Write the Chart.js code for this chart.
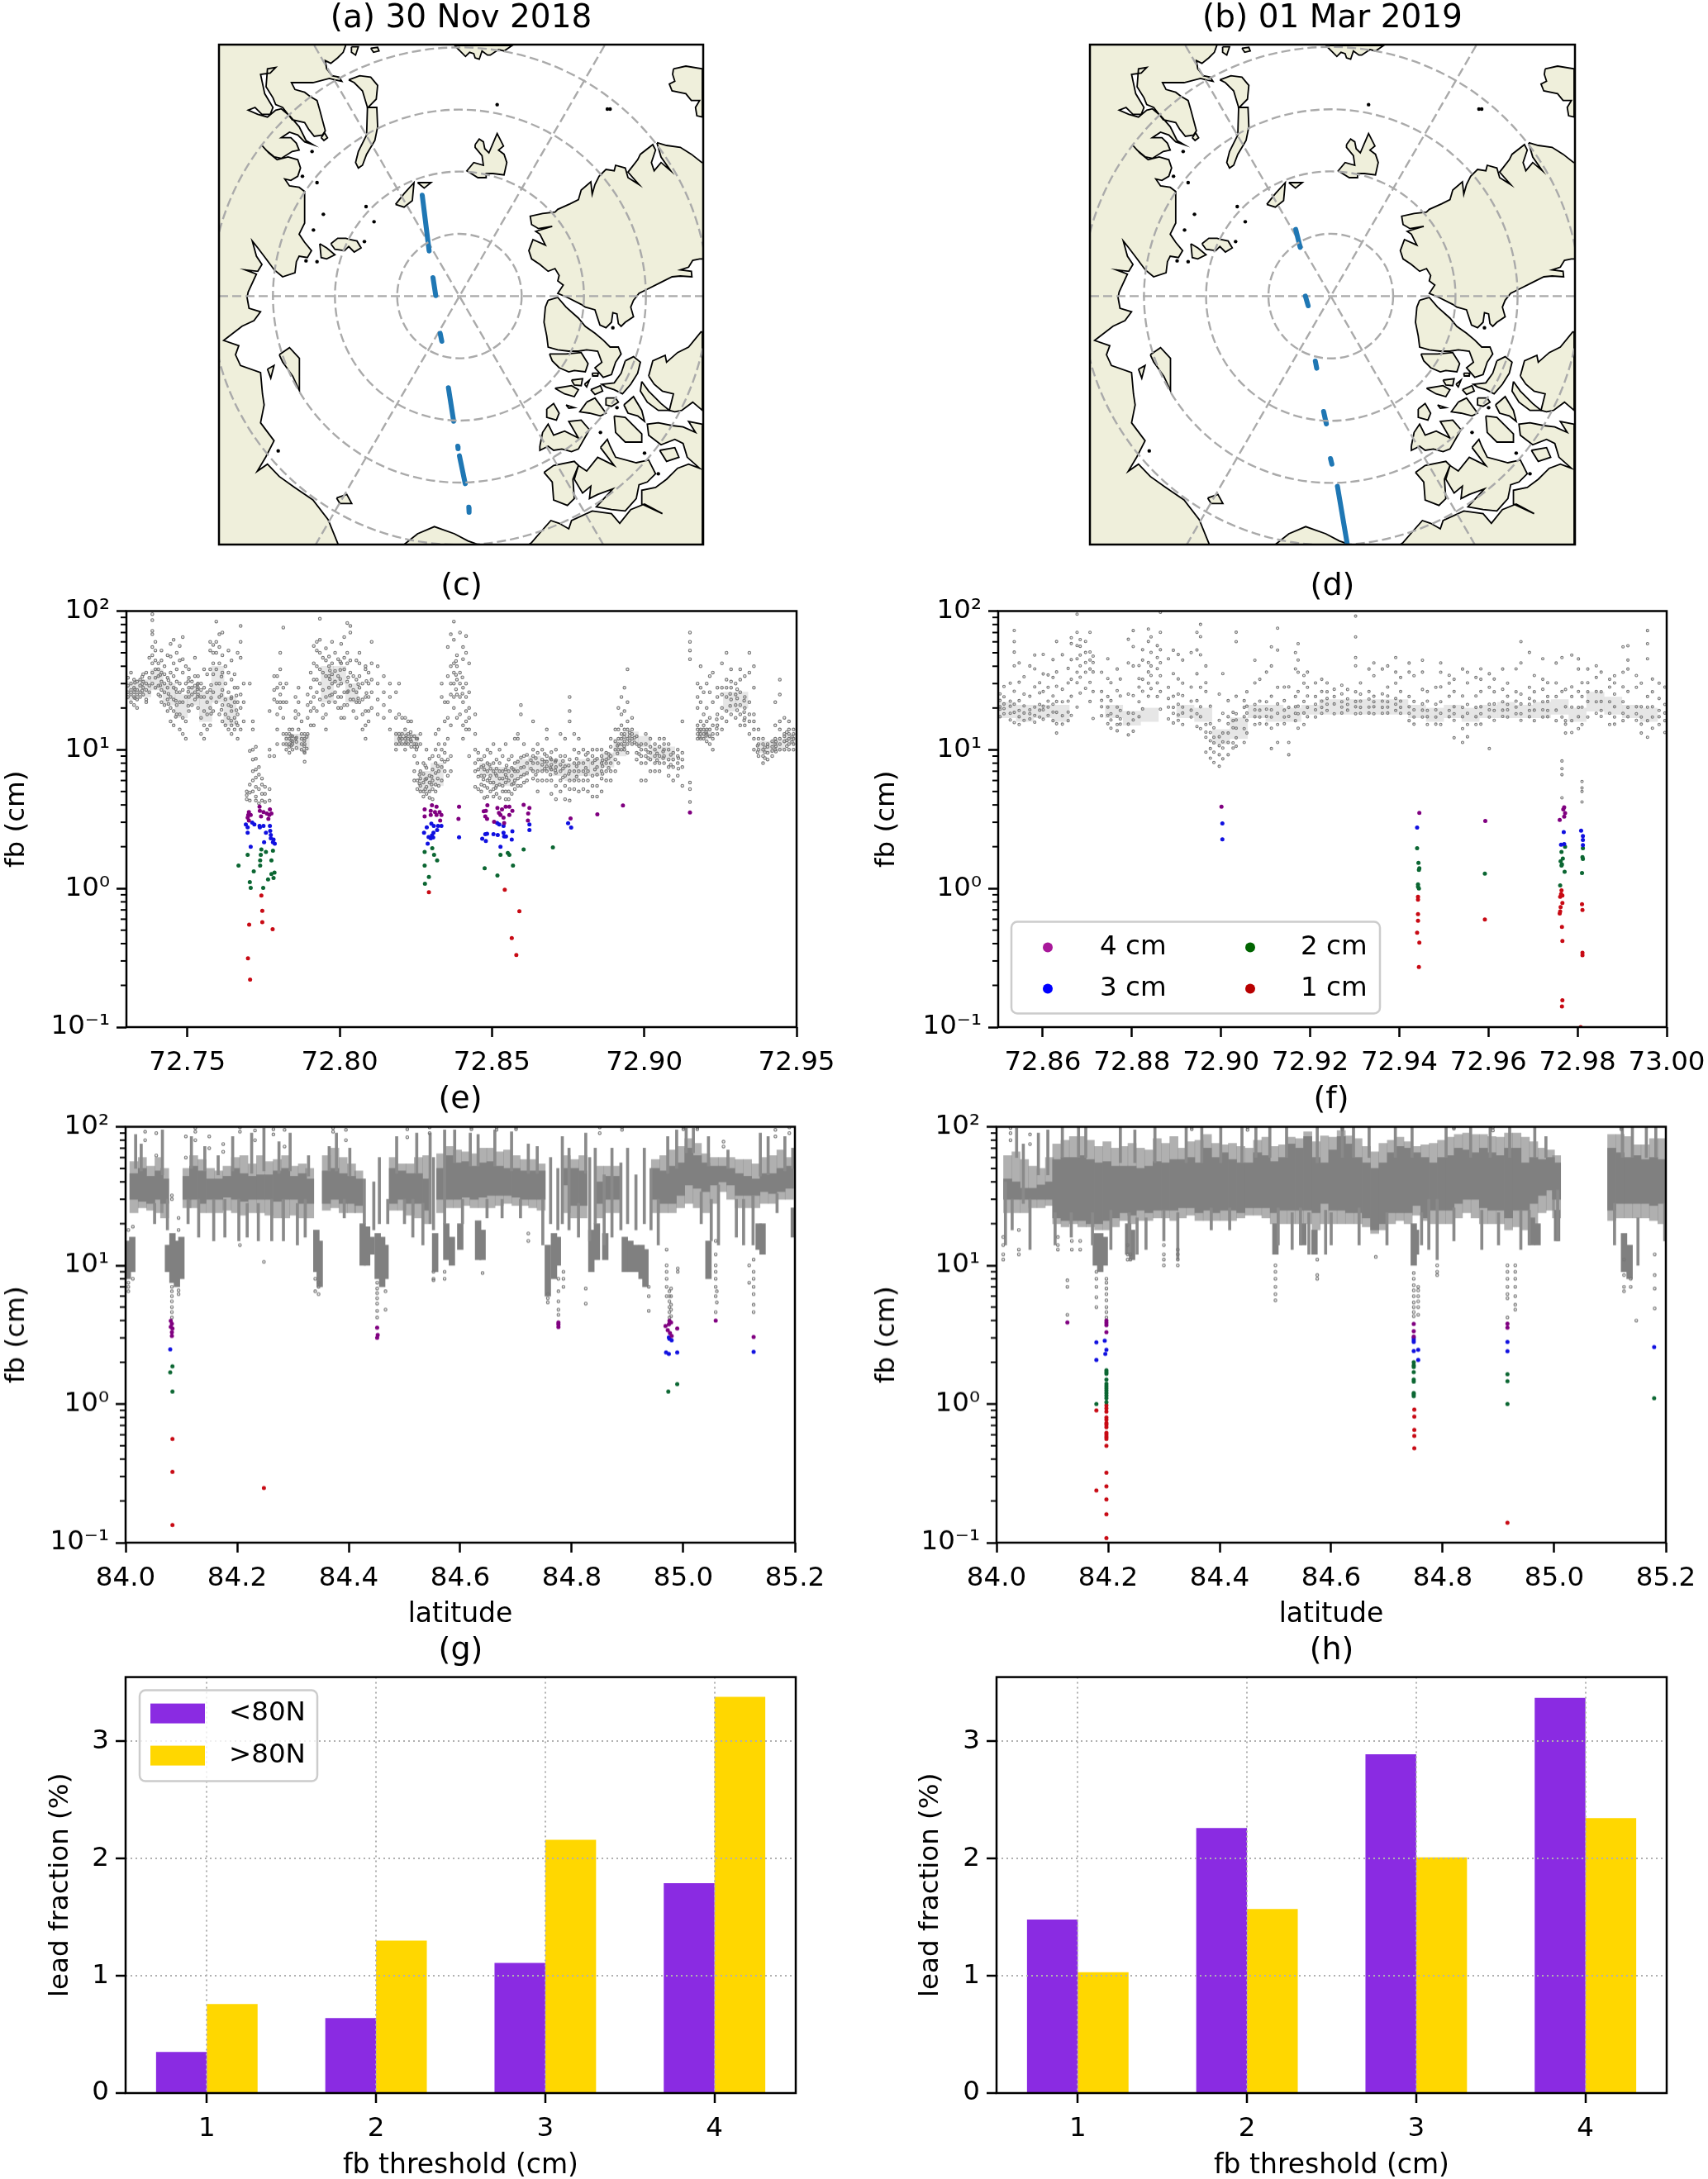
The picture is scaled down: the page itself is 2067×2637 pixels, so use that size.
<!DOCTYPE html>
<html>
<head>
<meta charset="utf-8">
<title>lead fraction</title>
<script src="https://cdn.jsdelivr.net/npm/chart.js@4/dist/chart.umd.min.js"></script>
<style>
html, body { margin: 0; padding: 0; background: #fff; }
canvas { position: absolute; }
</style>
</head>
<body>
<script>
// log axis of the freeboard panels
const fbTicks = [0.1, 1, 10, 100];
const fbTickLabels = ['10⁻¹', '10⁰', '10¹', '10²'];
const fbMinor = [0.2,0.3,0.4,0.5,0.6,0.7,0.8,0.9,2,3,4,5,6,7,8,9,20,30,40,50,60,70,80,90];

const latTicksC = [72.75, 72.80, 72.85, 72.90, 72.95];
const latTicksD = [72.86, 72.88, 72.90, 72.92, 72.94, 72.96, 72.98, 73.00];
const latTicksE = [84.0, 84.2, 84.4, 84.6, 84.8, 85.0, 85.2];

// bars (g) (h)
const thresholds = [1, 2, 3, 4];
const leadLowG = [0.35, 0.64, 1.11, 1.79];
const leadHighG = [0.76, 1.30, 2.16, 3.38];
const leadLowH = [1.48, 2.26, 2.89, 3.37];
const leadHighH = [1.03, 1.57, 2.01, 2.345];
const leadTicks = [0, 1, 2, 3];

// panel (c) lead points: [lat, fb]
const c4cm = [[72.7700,3.39],[72.7702,3.55],[72.7698,3.24],[72.7708,3.39],[72.7702,3.09],[72.7737,3.89],[72.7738,3.63],[72.7742,3.31],[72.7750,3.55],[72.7761,3.47],[72.7776,3.47],[72.7766,3.17],[72.7771,3.72],[72.7769,3.39],[72.8279,3.72],[72.8303,3.98],[72.8318,3.89],[72.8299,3.63],[72.8313,3.55],[72.8328,3.55],[72.8279,3.31],[72.8299,3.39],[72.8318,3.39],[72.8334,3.39],[72.8330,3.09],[72.8392,3.89],[72.8390,3.17],[72.8485,3.98],[72.8473,3.60],[72.8480,3.63],[72.8478,3.31],[72.8484,3.17],[72.8518,3.80],[72.8523,3.50],[72.8533,3.72],[72.8528,3.39],[72.8507,3.02],[72.8538,3.24],[72.8545,3.89],[72.8557,3.89],[72.8567,3.63],[72.8557,3.39],[72.8540,2.96],[72.8604,4.00],[72.8623,3.80],[72.8619,3.47],[72.8618,3.09],[72.8758,3.20],[72.8846,3.42],[72.8930,3.96],[72.9150,3.53]];
const c3cm = [[72.7692,2.89],[72.7698,2.76],[72.7698,2.52],[72.7713,2.98],[72.7720,2.89],[72.7737,2.82],[72.7750,2.82],[72.7738,2.76],[72.7758,2.52],[72.7771,2.82],[72.7772,2.60],[72.7774,2.43],[72.7774,2.30],[72.7783,2.25],[72.7781,2.15],[72.7787,2.10],[72.7708,2.00],[72.7752,2.15],[72.8286,2.76],[72.8301,2.93],[72.8309,2.82],[72.8323,2.82],[72.8334,2.82],[72.8320,2.64],[72.8277,2.52],[72.8308,2.52],[72.8303,2.41],[72.8292,2.35],[72.8299,2.30],[72.8307,2.33],[72.8289,2.10],[72.8392,2.34],[72.8468,2.28],[72.8478,2.46],[72.8484,2.48],[72.8480,2.20],[72.8505,2.46],[72.8517,2.96],[72.8524,2.89],[72.8538,2.82],[72.8519,2.43],[72.8538,2.52],[72.8540,2.37],[72.8546,2.37],[72.8528,2.00],[72.8567,2.58],[72.8565,2.25],[72.8623,2.89],[72.8623,2.64],[72.8750,2.95],[72.8760,2.75]];
const c2cm = [[72.7698,1.75],[72.7668,1.46],[72.7718,1.33],[72.7705,1.11],[72.7708,1.01],[72.7743,1.91],[72.7758,1.83],[72.7741,1.75],[72.7739,1.59],[72.7739,1.46],[72.7749,1.01],[72.7765,1.16],[72.7776,1.59],[72.7781,1.87],[72.7776,1.27],[72.7786,1.30],[72.7783,1.19],[72.8279,1.83],[72.8304,1.95],[72.8310,1.75],[72.8320,1.59],[72.8279,1.46],[72.8293,1.21],[72.8280,1.08],[72.8528,1.75],[72.8552,1.80],[72.8557,1.75],[72.8569,1.46],[72.8476,1.40],[72.8518,1.24],[72.8604,1.91],[72.8700,1.98]];
const c1cm = [[72.7703,0.549],[72.7699,0.313],[72.7706,0.220],[72.7743,0.888],[72.7746,0.690],[72.7746,0.572],[72.7780,0.508],[72.8293,0.938],[72.8542,0.977],[72.8590,0.684],[72.8565,0.439],[72.8580,0.331]];

// panel (d)
const d4cm = [[72.9001,3.88],[72.9445,3.51],[72.9593,3.07],[72.9770,3.85],[72.9768,3.71],[72.9772,3.49],[72.9770,3.30],[72.9760,3.12]];
const d3cm = [[72.9003,2.94],[72.9003,2.26],[72.9440,2.75],[72.9769,2.55],[72.9763,2.07],[72.9770,2.09],[72.9808,2.61],[72.9812,2.39],[72.9812,2.24],[72.9812,2.05]];
const d2cm = [[72.9440,1.95],[72.9443,1.53],[72.9445,1.40],[72.9444,1.36],[72.9442,1.07],[72.9442,1.03],[72.9444,1.00],[72.9592,1.28],[72.9772,2.00],[72.9764,1.83],[72.9767,1.64],[72.9762,1.57],[72.9765,1.49],[72.9764,1.46],[72.9771,1.32],[72.9761,1.05],[72.9812,1.95],[72.9811,1.68],[72.9812,1.63],[72.9810,1.29]];
const d1cm = [[72.9442,0.87],[72.9442,0.83],[72.9442,0.652],[72.9442,0.584],[72.9440,0.48],[72.9445,0.407],[72.9444,0.271],[72.9592,0.598],[72.9764,0.967],[72.9763,0.91],[72.9761,0.87],[72.9766,0.89],[72.9766,0.787],[72.9762,0.734],[72.9761,0.683],[72.9760,0.66],[72.9765,0.528],[72.9766,0.418],[72.9766,0.156],[72.9765,0.141],[72.9810,0.77],[72.9811,0.70],[72.9811,0.344],[72.9811,0.33],[72.9807,0.10]];

// panel (e)
const e4cm = [[84.081,3.98],[84.083,3.80],[84.081,3.60],[84.084,3.50],[84.083,3.30],[84.083,3.10],[84.451,3.55],[84.452,3.15],[84.451,3.00],[84.776,3.87],[84.776,3.76],[84.776,3.59],[84.968,3.65],[84.974,3.76],[84.978,3.87],[84.975,3.98],[84.972,3.41],[84.976,3.25],[84.979,3.10],[84.989,3.50],[85.058,4.00],[85.126,3.05]];
const e3cm = [[84.080,2.48],[84.969,2.35],[84.974,2.30],[84.974,3.02],[84.975,2.95],[84.979,2.88],[84.989,2.35],[85.126,2.38]];
const e2cm = [[84.084,1.87],[84.080,1.69],[84.084,1.23],[84.973,1.23],[84.989,1.39]];
const e1cm = [[84.084,0.56],[84.084,0.324],[84.248,0.248],[84.084,0.134]];

// panel (f)
const f4cm = [[84.127,3.87],[84.197,4.00],[84.197,3.85],[84.197,3.70],[84.197,3.30],[84.748,3.78],[84.748,3.35],[84.748,3.07],[84.916,3.80],[84.916,3.55]];
const f3cm = [[84.179,2.78],[84.179,2.08],[84.194,2.86],[84.197,2.46],[84.195,2.30],[84.748,3.00],[84.748,2.90],[84.748,2.80],[84.748,2.41],[84.756,2.46],[84.756,2.08],[84.916,2.80],[84.916,2.40],[85.179,2.57]];
const f2cm = [[84.197,1.75],[84.197,1.70],[84.197,1.65],[84.197,1.50],[84.197,1.40],[84.197,1.35],[84.197,1.30],[84.197,1.25],[84.197,1.20],[84.197,1.15],[84.197,1.10],[84.197,1.03],[84.179,1.00],[84.748,2.00],[84.748,1.90],[84.748,1.85],[84.748,1.70],[84.748,1.50],[84.748,1.45],[84.748,1.20],[84.748,1.17],[84.748,1.14],[84.916,1.64],[84.916,1.46],[84.916,1.00],[85.179,1.10]];
const f1cm = [[84.179,0.90],[84.179,0.238],[84.197,0.98],[84.197,0.93],[84.197,0.88],[84.197,0.80],[84.197,0.77],[84.197,0.73],[84.197,0.71],[84.197,0.68],[84.197,0.62],[84.197,0.60],[84.197,0.58],[84.197,0.56],[84.197,0.50],[84.197,0.32],[84.197,0.255],[84.197,0.205],[84.197,0.16],[84.197,0.108],[84.749,0.91],[84.749,0.81],[84.749,0.65],[84.749,0.59],[84.749,0.48],[84.916,0.139]];

// gray points of (c), each row: lat then fb values
const grayC = [
[72.7305,24,26,29,33],[72.7315,22,25,27,30,36],[72.7325,21,24,26,28,32],[72.7335,20,23,25,27,31],[72.7345,24,26,29,32],[72.7355,25,28,31,35],[72.7365,23,27,30,36,22],[72.7375,26,29,33,46],
[72.7385,30,36,42,48,55,68,72,86,95],[72.7395,28,33,38,44,52,60],[72.7405,25,29,34,38,42],[72.7415,22,27,31,36,44,52],[72.7425,21,26,30,35,40],[72.7435,19,23,28,33,48],[72.7445,16,20,24,30,36,47,58],
[72.7455,15,19,23,28,34,42,62],[72.7465,18,21,26,31,38,50],[72.7475,14,18,22,26,30,44,56],[72.7485,13,17,22,27,36,45,65],[72.7495,12,16,24,30,40],[72.7505,19,24,28,33,38],[72.7515,21,25,28,31],[72.7525,23,26,29,34,46],
[72.7535,20,25,28,30,34],[72.7545,13,17,24,27,30],[72.7555,12,15,19,24,28,38],[72.7565,14,18,22,26,35],[72.7575,15,20,27,38,52,60],[72.7585,19,26,35,42,50,57],[72.7595,22,30,38,50,60,84],[72.7605,18,24,30,42,55,68],
[72.7615,16,21,27,36,48,70],[72.7625,15,18,23,30,40],[72.7635,14,17,21,26,36,52],[72.7645,13,15,19,24,32,44],[72.7655,14,17,22,28,35],[72.7665,12,15,18,22,28,50],[72.7675,14,20,25,46,60,78],[72.7685,16,22,30],
[72.7695,4.4,4.7,5.0],[72.7705,4.3,4.9,5.6,9.8,30],[72.7715,5.0,6.0,7.0,8.5,10,14,16],[72.7725,4.3,4.6,5.4,6.3,7.2,8.6,10.5],[72.7735,4.1,5.2,6.6,7.5],[72.7745,4.3,4.8,5.6,6.2],[72.7755,4.2,4.8,5.4],[72.7770,4.3,5.2,9,10,19],
[72.7785,9.0,23,27,34],[72.7795,11,14,18,22,28,34],[72.7805,20,22,25,30,38,50],[72.7815,11,13,17,22,28,76],[72.7825,10,11,12,13,22,30],[72.7835,9.5,10.5,11,12,13,14],[72.7845,10,11,11.5,12.5,14],[72.7855,12,17,19,24],
[72.7865,14,18,22,28],[72.7875,10,11,12,13,16],[72.7885,8.2,9.5,11,12,13],[72.7895,13,17,21,25],[72.7905,15,19,22,28,36],[72.7915,15,20,24,32,42,56],[72.7925,19,26,32,40,52,60],[72.7935,23,30,38,50,62,88],
[72.7945,17,21,27,36,46],[72.7955,14,18,24,34,44,54],[72.7965,22,28,34,40,47],[72.7975,25,30,35,42,60],[72.7985,22,26,31,37,50],[72.7995,20,24,29,34,45],[72.8005,17,20,24,30,42,58],[72.8015,17,21,26,38,46,65],
[72.8025,21,26,31,42,50,82],[72.8035,23,29,36,44,78,70],[72.8045,19,23,27,34],[72.8055,17,22,26,32,44],[72.8065,22,28,34,42,50],[72.8075,14,18,23,30],[72.8085,12,15,19,24,38,40],[72.8095,16,19,24,30,36],
[72.8105,20,26,32,42,60],[72.8125,18,23,30,40],[72.8145,17,21,26,34],[72.8165,14,19,24,30],
[72.8185,10,11,13,17,26],[72.8195,11,12,13,18,30],[72.8205,11,12,13,17],[72.8215,10,11,12,14,17],[72.8225,11,12,13,16],[72.8235,10.5,11.5,12.5,16],[72.8245,9,10.5,11,12.5,6,7],[72.8252,10,11,12],
[72.8255,5.2,6,8,10.5,12],[72.8265,5,5.5,6.2,7,11,13],[72.8275,4.6,5,5.8,6.7,8],[72.8285,4.8,5.4,6.2,7.4,10],[72.8295,4.5,5,5.8,6.5,8.6],[72.8305,4.4,5.2,6,7.2,9],[72.8315,5,5.6,6.8,8,10,13],[72.8325,5.5,7,9,11,14],
[72.8335,6,7.5,8.5,10,24,30],[72.8345,7,8.2,9.5,11,16,22],[72.8355,6.5,8.5,12,17,22,34,55],[72.8365,7,9,15,25,30,40,68],[72.8375,20,24,30,36,42,62,84],[72.8385,17,25,32,40,48],[72.8395,18,24,30,36,70],[72.8405,12,15,22,28,45,55],
[72.8415,14,16,19,24,30,50,66],[72.8425,9,14,17,20,26,42],[72.8445,5.4,7,8,10,13,18],[72.8455,5.2,6.4,7.2,8.5,9.5],[72.8465,5,5.6,6.5,7.5,8.5],[72.8475,4.5,5.5,6.5,7.2,9],[72.8485,4.6,5.3,6,7,8,10],[72.8495,5,5.8,6.5,7.3,9.5],
[72.8505,4.6,5.2,5.8,7,8,11],[72.8515,4.8,5.5,6.5,7.3,8.5],[72.8525,4.5,5.6,6.2,7,8,10],[72.8535,5,5.5,6.2,7,9],[72.8545,4.4,5,5.8,6.6,7.2,11],[72.8555,4.4,5,6,7,8.5],[72.8565,4.8,5.6,6.5,7.4,9],[72.8575,5.2,6,7,8,12],
[72.8585,5.5,6.2,7,8.2,12,13],[72.8595,5.5,6.4,7.4,8.8,18,21],[72.8605,5.8,6.6,7.5,9,11],[72.8615,6,6.8,8,9.2],[72.8635,6.2,7,8,9,10,16],[72.8650,5,6,7,8,9.5,11],[72.8665,6,7,7.8,8.5,10],[72.8680,6,7,7.6,8.2,9,12,14],
[72.8695,4.8,6,7.2,7.8,8.5,9.6],[72.8710,4.4,5.5,6.8,7.5,8.4,10],[72.8725,5,6,7,7.8,9,13],[72.8740,4.4,5.5,6.5,7.6,9,12],[72.8755,4.3,5.2,6,7,8.5,16,19,24],[72.8770,5.2,6,7,8,10,13],[72.8785,5,6,7,8,9.5,12],[72.8800,5.2,6,7,8,10],
[72.8815,5,6,7,8.5,9.5],[72.8830,4.6,5.5,6.5,8,9,10],[72.8845,4.6,5.5,6.6,7.5,8.6,10],[72.8860,5,6.2,7,8,9,10],[72.8875,6,7,8,8.5,9.5],[72.8890,6,7,8,9,10.5,12],[72.8905,7,8.5,10,11.5,14],[72.8915,8,10,11,12,14,20],
[72.8925,10,11,12,13,15,18,24],[72.8935,10,11.5,13,14,19,28],[72.8945,9.5,11,12,14,16,22,38],[72.8960,11,12,13,14,17],[72.8975,8.5,9.5,11,12.5],[72.8990,6,8,9,10,11],[72.9005,6,8,9,10,11,13],[72.9020,7,8.5,9.5,10.5,12],
[72.9035,7,8,9,10,11],[72.9050,7,8,9,10.5,12],[72.9065,8,9,10,11,12],[72.9080,6.5,7.5,8.5,10,11],[72.9095,6,7.5,8.5,9.5],[72.9110,6.5,8,9,10],[72.9125,5.5,7.5,8.5,9.5,16],[72.9150,4.2,5.2,5.8,60,52,45,70],
[72.9175,12,13,14,15,20,24,30],[72.9185,12,13,14,16,22,28,40],[72.9195,12,13,14,15,18,26],[72.9205,11.5,13,14,16,20,30],[72.9215,11,12.5,14,17,26,34],[72.9225,10,12,13,15,22,36],[72.9240,13,15,18,24,28],[72.9255,14,17,20,25,28,42],
[72.9270,16,19,24,28,32,50],[72.9285,18,23,28,31,38],[72.9300,17,21,25,30],[72.9315,15,18,21,26,32,38],[72.9330,15,17,20,24,34],[72.9345,13,16,18,22,36,50],[72.9360,10,12,14,16,18,28,40],[72.9375,9,10,11,12,14],
[72.9390,8,9,10,11,12],[72.9405,8.5,9.5,10.5,11],[72.9420,9,9.8,10.5,11.5],[72.9430,10,11,12,15,22],[72.9445,10,11,12,14,16,25,32],[72.9460,10,11.5,12.5,13,17],[72.9475,10,11,12,13,14,16],[72.9490,10,11,12,13,14]
];
// extra points between the rows of grayC
const grayC2 = [
[72.7328,23.6,27.2,30.4],[72.7352,26.7,29.8,33.6],[72.7411,24.3,29.1,34.7],[72.7438,21.4,25.3,31.7],[72.7462,17.3,22.6,27.4],[72.7503,20.7,26.2,31.2],[72.7533,24.1,27.3,29.6],[72.7578,18.2,23.7,29.3],[72.7612,19.4,24.8,33.7],[72.7644,16.2,20.6,23.4],[72.7661,15.7,19.3,24.6],
[72.7841,10.7,11.7,12.6],[72.7858,10.3,11.4,12.2],[72.7884,9.7,10.6,11.6],[72.7892,10.2,12.4],[72.7968,24.6,32.2,37.3],[72.8002,32.4,37.6,43.2],[72.8028,26.4,33.2],[72.8061,23.4,29.7],[72.8088,25.6,31.3],[72.8198,11.6,12.4],[72.8218,11.3,12.7],[72.8233,11.8,13.4],
[72.8262,5.7,6.6],[72.8281,5.2,6.1,7.7],[72.8302,5.6,6.4],[72.8322,6.2,7.6],[72.8382,27.3,34.7,43.6],[72.8403,25.4,33.3],[72.8472,7.7,6.1],[72.8492,6.2,7.8],[72.8512,6.7,5.3],[72.8548,6.3,7.7],[72.8571,5.7,7.2],[72.8628,7.3,8.4],[72.8644,6.6,8.7],[72.8673,7.3,8.2,9.3],[72.8692,6.6,7.4,8.7],[72.8708,7.1,8.2],[72.8733,6.3,7.3,8.3],[72.8752,6.7,7.7],[72.8778,6.4,7.6,8.6],[72.8808,6.6,7.4,9.2],[72.8838,7.2,8.4],[72.8863,6.7,7.6,8.4],[72.8883,7.4,8.7,9.3],[72.8912,9.4,10.7],[72.8934,10.6,12.4],[72.8952,11.6,12.6,13.3],[72.8968,11.3,12.2],[72.8983,9.3,10.6],[72.9013,8.7,9.6],[72.9042,8.4,9.4],[72.9062,8.7,9.7],[72.9087,7.8,9.2],[72.9112,7.3,8.7],
[72.9182,12.4,13.6],[72.9203,12.6,13.4],[72.9238,14.2,16.6],[72.9282,20.7,25.3],[72.9305,19.3,23.4,27.3],[72.9328,16.3,18.7,22.6],[72.9372,9.6,10.7],[72.9396,8.7,9.6,10.4],[72.9432,9.7,10.6,11.4],[72.9468,10.6,11.7,13.4],[72.9485,11.4,12.4]
];
const bandC = [
[72.732,23,31],[72.736,24,32],[72.740,27,38],[72.744,21,30],[72.748,17,25],[72.752,21,28],[72.756,16,26],[72.760,22,40],[72.764,15,24],[72.784,10.5,13],[72.788,10,13],[72.796,22,40],[72.800,30,40],[72.804,22,30],[72.820,11,13.5],[72.824,11,13],[72.828,5,7],[72.832,5.5,8],
[72.848,6.5,8],[72.852,5.5,7.5],[72.856,5.5,7.5],[72.860,6.5,8.5],[72.864,7,9],[72.868,7,8.5],[72.872,6.5,8.5],[72.876,6,8],[72.880,6.5,8.5],[72.884,6.5,8.5],[72.888,7.5,9.5],[72.892,9,12],[72.896,11,13.5],[72.900,10.5,12.5],[72.904,8.5,10.5],[72.908,8.5,10.5],[72.920,12,14],[72.928,19,26],[72.932,20,26],[72.940,9.5,11.5],[72.944,10,12],[72.948,11,13]
];

// gray points of (d)
const grayD = [
[72.8504,17.3,19.6,20.4,22.7,25.3],[72.8513,18.2,19.8,21.4,24.1,28.6],[72.8527,16.4,18.3,20.6,22.4,30.2],[72.8536,15.7,18.6,21.3,26.4,40.3,50.6,60.2,72.4],[72.8547,15.2,17.3,19.2,22.6,30.7,42.3],[72.8558,16.3,18.4,20.7,25.2,33.6],[72.8571,16.7,18.2,19.4,24.3,40.2],[72.8582,15.8,17.7,20.3,28.4,38.3,48.2],
[72.8593,17.2,19.3,21.2,25.7,30.4],[72.8601,16.6,19.4,20.6,26.3,35.2,48.7],[72.8612,17.7,20.3,22.4,28.2,34.6],[72.8623,16.2,18.7,21.3,24.4,33.2,44.6],[72.8631,13.2,15.4,18.6,22.3,28.7,36.4,60.3],[72.8644,15.3,17.6,22.2,27.3,48.4],[72.8657,16.2,18.7,22.4,30.3,38.6],[72.8664,17.7,24.3,32.2,44.6,58.3,64.2],
[72.8677,20.3,30.4,36.2,45.3,56.4,70.2,95],[72.8684,25.6,33.4,40.3,48.2,55.7,62.3],[72.8696,27.7,36.2,42.6,50.3,60.4],[72.8706,22.3,30.6,38.2,44.4,50.7,70.3],[72.8713,16.8,26.3,36.4,42.6,47.3],[72.8732,17.6,20.4,22.7,26.3,36.2],[72.8746,15.4,17.7,20.3,24.2,32.6,45.3],[72.8753,14.3,16.4,18.2,22.6,30.4],
[72.8767,13.7,15.2,17.4,20.3,26.7,38.2],[72.8774,15.3,16.7,19.2,24.4,32.3],[72.8792,12.8,15.3,18.4,25.2,42.3,62.6],[72.8803,13.6,16.4,18.3,24.6,40.2,55.4,72.3],[72.8816,17.3,22.2,28.3,32.6,40.4],[72.8824,19.7,26.4,32.2,44.3,52.6],[72.8837,24.3,30.2,36.4,42.6,60.3,74.2],[72.8843,27.6,34.3,40.2,50.4,65.2],
[72.8857,24.2,30.3,38.4,46.2,56.3],[72.8864,19.6,26.3,34.2,42.4,52.6,70.3,98],[72.8882,16.7,20.3,23.4,28.2,45.3],[72.8893,15.6,18.3,20.2,24.3,35.4,52.2],[72.8904,16.3,17.8,21.3,25.2,32.4,48.6],[72.8914,15.2,18.4,20.3,24.6,30.2,44.3],[72.8933,17.2,19.3,22.4,28.3,50.2],[72.8946,14.7,18.2,22.6,35.3,52.4,70.2],
[72.8954,14.2,17.3,20.4,28.2,48.3,65.4,80.2],[72.8966,9.6,12.3,13.4,15.2,26.3,30.4,40.2],[72.8976,8.7,10.2,11.6,13.3,15.4,20.6],[72.8984,8.1,9.6,11.2,12.3,14.4],[72.8996,7.6,9.2,10.7,12.4,16.3,25.2],[72.9004,8.6,10.3,11.4,13.2,18.3,35.4],[72.9016,9.2,11.3,13.2,15.4,17.3,22.6],[72.9027,10.3,11.2,14.4,16.2,18.6],
[72.9034,10.6,12.2,14.3,16.4,18.2,24.3,60.2,70.4],[72.9052,11.3,14.2,17.3,20.2,22.6],[72.9058,13.2,16.3,18.4,20.6,26.2],[72.9076,15.2,17.3,19.4,21.2,30.3,44.2],[72.9087,15.4,17.2,19.3,22.4,32.2],[72.9102,15.3,17.4,19.6,22.2,36.3],[72.9113,10.2,14.3,17.2,19.4,24.3,40.2,55.3],[72.9127,11.3,15.2,18.3,21.4,28.2,52.3,75.2],
[72.9142,15.4,17.2,19.3,22.6,28.3],[72.9152,9.2,11.3,17.4,20.2,28.4],[72.9167,16.2,18.3,20.4,24.2,38.3,50.2],[72.9173,14.3,18.2,20.6,26.3,36.2,44.4,58.2],[72.9186,15.2,18.4,22.3,30.2,34.3],[72.9194,17.3,20.2,24.4,28.2,36.3],[72.9212,17.2,19.4,21.3,24.2,30.3],[72.9226,18.3,20.2,22.4,26.3,32.2],
[72.9238,19.2,21.3,23.4,26.2,30.3],[72.9254,18.2,21.4,24.2,27.3],[72.9271,18.4,20.3,22.2,25.3,29.2],[72.9284,19.3,21.2,23.3,27.2],[72.9302,18.2,20.4,22.3,26.2,40.3,46.2,65.2,92],[72.9313,18.3,20.2,22.4,25.2,30.3],[72.9332,18.4,20.3,23.2,26.3,38.2],[72.9343,18.2,20.4,22.2,24.3,34.2,42.3],
[72.9362,18.3,20.2,22.4,25.3,38.2],[72.9374,18.4,20.3,22.2,24.4,28.3,40.2],[72.9392,19.2,21.3,23.4,30.2,36.3,46.2],[72.9403,18.3,20.2,22.4,26.3,33.2],[72.9422,16.2,18.3,20.4,24.2,36.3,42.2],[72.9433,15.3,17.2,19.4,22.3,34.2],[72.9452,17.2,19.3,21.4,27.2,36.3,44.2],[72.9463,15.2,17.3,19.2,22.4,26.3],
[72.9482,15.3,17.2,19.4,21.3,28.2],[72.9493,15.2,18.3,22.2,28.4,36.2,42.3],[72.9512,17.3,19.2,24.3,30.2,34.4],[72.9523,12.2,16.3,18.2,20.4,26.3,32.2],[72.9542,11.3,14.2,17.3,20.2,24.4,38.2],[72.9553,12.4,15.2,18.3,21.2,30.3,36.2],[72.9572,15.2,17.3,20.2,24.4,33.2],[72.9583,15.3,18.2,20.4,26.3,32.2,38.3],
[72.9602,17.2,19.4,21.3,28.2,35.3,10.2],[72.9613,16.3,19.2,21.4,26.2,32.3],[72.9632,17.4,19.3,22.2,27.3,38.2],[72.9643,17.2,19.4,21.2,24.3,30.2],[72.9662,18.2,20.3,22.4,26.2,38.3],[72.9673,16.3,18.2,21.4,25.2,42.3,60.2],[72.9692,17.3,19.2,21.3,23.4,28.2,50.3],[72.9703,16.2,19.3,22.4,26.2,34.3],
[72.9722,17.2,19.4,22.2,27.3,32.2,45.3],[72.9733,17.3,19.2,22.3,24.2,30.4],[72.9752,16.2,19.3,24.2,30.3,42.2],[72.9765,8.3,6.6,7.3,4.5,17.2,26.3,46.2],[72.9773,13.2,15.3,16.2,20.4,27.2],[72.9787,13.3,16.2,20.3,24.2,28.4,48.2],[72.9802,14.2,17.3,20.2,26.3,38.2,45.2],[72.9810,5.3,5.9,5.0,4.2,15.2,20.3,24.2,30.4],
[72.9823,17.2,22.3,26.2,30.4,38.2],[72.9842,18.3,22.2,26.3,33.2,40.3],[72.9853,17.4,19.2,22.3,26.2,36.3],[72.9872,15.2,18.3,22.2,28.3,32.2],[72.9883,15.3,17.2,20.4,25.2,30.3,34.2],[72.9902,16.2,18.3,22.2,28.4,36.2,55.3],[72.9913,17.3,20.2,26.3,38.2,44.3,56.2],[72.9932,16.3,18.2,20.4,28.2,34.3],
[72.9943,13.2,15.3,17.2,20.4,30.2],[72.9957,12.3,16.2,20.3,24.2,45.3,58.2,72.3],[72.9968,14.3,17.2,20.4,26.2,32.3],[72.9983,15.2,17.3,19.2,23.4,30.2],[72.9996,13.3,16.2,18.4,21.2,28.3]
];
const bandD = [
[72.852,17,22],[72.856,16,21],[72.860,17,21],[72.864,16,21],[72.876,17,21],[72.880,15,19],[72.884,16,20],[72.892,17,21],[72.896,16,20],[72.900,11,14],[72.904,12,17],[72.908,17,21],[72.912,16,21],[72.916,16,20],[72.920,18,21],[72.924,18,23],[72.928,18,23],[72.932,18,23],[72.936,18,23],[72.940,18,23],[72.944,17,21],[72.948,16,20],[72.952,17,21],[72.956,16,20],[72.960,17,21],[72.964,17,22],[72.968,17,21],[72.972,17,22],[72.976,18,23],[72.980,16,20],[72.984,19,26],[72.988,18,24],[72.992,17,21],[72.996,16,20]
];

// gray columns of (e): lat, dense low, dense high, spread low, spread high
const bandE = [
[84.015,30,46,24,56],[84.030,29,50,26,60],[84.045,28,44,25,52],[84.060,30,48,24,60],[84.070,28,42,22,50],[84.110,30,44,26,50],[84.122,30,52,26,62],[84.137,28,48,24,58],[84.152,30,42,24,50],[84.167,30,42,24,48],[84.182,31,44,25,52],[84.197,30,50,24,60],[84.212,29,46,23,62],[84.227,30,44,24,54],[84.242,30,45,24,62],[84.257,30,45,23,56],[84.272,29,48,22,58],[84.287,30,50,22,62],[84.302,30,44,23,52],[84.317,28,46,22,54],[84.330,28,42,22,50],
[84.360,28,48,25,62],[84.375,30,50,26,70],[84.390,28,46,24,60],[84.405,28,44,24,54],[84.418,27,42,24,48],[84.480,28,50,25,60],[84.495,30,48,25,54],[84.510,28,46,23,54],[84.525,28,46,22,60],[84.540,25,42,20,62],[84.565,30,50,24,64],[84.580,30,62,26,72],[84.595,30,55,26,68],[84.610,31,56,27,66],[84.625,30,52,26,64],[84.640,31,55,26,70],[84.655,32,56,26,70],[84.670,32,52,27,66],[84.685,32,50,28,68],[84.700,31,50,27,62],[84.715,30,48,27,58],[84.730,30,48,26,58],[84.745,30,48,25,54],
[84.790,38,50,24,62],[84.805,27,50,22,58],[84.820,27,48,22,62],[84.850,28,40,22,52],[84.865,30,44,24,52],[84.880,30,44,24,52],[84.950,30,50,24,58],[84.965,28,48,24,62],[84.980,28,52,24,68],[84.995,32,55,26,72],[85.010,38,70,28,82],[85.025,36,62,26,76],[85.040,34,55,24,64],[85.055,38,52,28,60],[85.070,40,52,34,60],[85.085,38,50,30,60],[85.100,32,46,26,58],[85.115,32,44,26,58],[85.130,32,42,26,54],[85.145,34,46,28,60],[85.160,33,46,28,62],[85.175,34,50,30,68],[85.190,36,52,30,60]
];
const lowE = [[84.004,8,15],[84.012,9,16],[84.076,9,14],[84.084,7.5,17],[84.092,7,15],[84.100,8,16],[84.342,9,18],[84.348,7,15],[84.425,10,20],[84.433,10,19],[84.441,12,16],[84.452,8,17],[84.460,7,16],[84.466,8,14],[84.555,9,17],[84.575,11,20],[84.585,10,16],[84.600,13,20],[84.632,11,21],[84.640,11,18],[84.757,6,14],[84.768,8,17],[84.775,10,16],[84.835,9,18],[84.845,11,20],[84.860,11,17],[84.895,9,16],[84.905,9,15],[84.915,9,14],[84.925,8,14],[84.932,7,13],[85.045,8,15],[85.135,13,20],[85.142,12,20],[85.198,16,26]];
const streakE = [[84.018,50,88],[84.028,48,75],[84.052,20,28],[84.066,45,95],[84.075,18,30],[84.112,20,30],[84.118,50,85],[84.131,16,30],[84.142,48,72],[84.158,15,30],[84.166,45,62],[84.178,16,30],[84.192,48,85],[84.203,15,30],[84.218,16,28],[84.226,46,90],[84.238,15,28],[84.248,48,98],[84.262,15,30],[84.275,46,78],[84.283,15,30],[84.295,48,90],[84.308,14,28],[84.322,16,30],[84.328,44,62],[84.365,48,72],[84.378,48,90],[84.392,22,30],[84.402,44,70],[84.428,20,42],[84.445,18,40],[84.455,20,60],[84.470,20,30],[84.486,46,85],[84.500,20,30],[84.515,16,30],[84.522,46,90],[84.533,14,28],[84.546,20,90],[84.552,18,60],[84.572,20,95],[84.590,55,95],[84.604,20,30],[84.618,52,90],[84.632,52,88],[84.648,22,30],[84.662,52,95],[84.675,22,30],[84.692,48,92],[84.708,22,30],[84.722,46,75],[84.738,46,72],[84.748,14,30],[84.762,20,60],[84.775,18,50],[84.783,20,85],[84.795,18,70],[84.812,16,28],[84.825,46,90],[84.832,15,60],[84.842,20,70],[84.858,14,45],[84.872,16,70],[84.888,18,55],[84.900,20,70],[84.915,18,45],[84.930,20,70],[84.942,18,50],[84.955,14,30],[84.972,46,85],[84.988,50,95],[85.005,65,98],[85.018,65,98],[85.032,20,34],[85.045,52,85],[85.050,15,30],[85.063,14,38],[85.080,50,68],[85.095,16,30],[85.108,14,30],[85.125,14,32],[85.138,44,90],[85.152,45,85],[85.168,24,33],[85.182,48,85],[85.196,50,70]];
const grayE = [
[84.005,6.5,7,7.5,18],[84.013,8,19],[84.035,80,92],[84.055,62,90],[84.083,4.2,4.6,5,5.5,6,6.5,7,30,32],[84.095,6.2,6.6,18,22],[84.108,85,60],[84.125,92,98,80],[84.150,70,85],[84.175,75,66],[84.205,92,99,14],[84.232,80,94],[84.248,10.6],[84.265,88,96],[84.285,95,72],
[84.340,6.5,8],[84.346,6.2,7,7.5],[84.372,98,92],[84.395,80,95],[84.451,4.2,4.7,5.3,5.8,6.3,6.8,7.5],[84.466,4.8,6.5],[84.505,84,96],[84.545,90,99],[84.552,8,7.8,9],[84.572,8,9],[84.620,96,99],[84.665,95,99],[84.640,8.8],[84.700,96,99],[84.722,15,17],
[84.757,5.4,5.8,6.2],[84.776,4.4,4.8,5.5,6.5,8],[84.785,7,8,9],[84.825,5.3,6.8],[84.850,90,99],[84.890,95,99],[84.938,6,4.7,7],[84.970,6,7,8,9,10,13],[84.975,4.2,4.6,5,5.5,6,6.5],[84.978,4.3,4.8,5.2,6,6.8],[84.990,9,9.5],[85.000,99,96],[85.025,99,96],[85.058,4.6,6,7,8,9,10,12,15],[85.060,5.4,6.5],[85.072,72,78],[85.126,4.6,5.2,6.2,7,8,9,11],[85.118,7.5,10],[85.165,85,95],[85.190,90,99]
];

// gray columns of (f)
const bandF = [
[84.020,30,42,24,62],[84.035,30,40,24,66],[84.050,30,36,24,58],[84.065,30,36,26,52],[84.080,30,38,26,50],[84.095,30,40,27,60],[84.108,22,58,20,75],[84.123,21,60,19,80],[84.138,21,60,20,85],[84.153,21,62,19,85],[84.168,20,58,19,80],[84.183,20,55,18,72],[84.198,21,56,18,78],[84.213,22,52,19,70],[84.228,24,52,21,72],[84.243,23,52,20,76],[84.258,25,50,21,70],[84.273,24,52,21,68],[84.288,25,56,22,82],[84.303,25,55,22,76],[84.318,25,58,21,85],[84.333,26,58,22,70],[84.348,26,60,23,78],[84.363,24,55,21,80],[84.378,25,70,21,88],[84.393,24,60,21,76],[84.408,25,65,21,74],[84.423,25,58,21,76],[84.438,24,55,22,72],[84.453,26,55,23,70],[84.468,26,65,23,80],[84.483,26,62,22,84],[84.498,24,56,20,72],
[84.513,25,60,20,74],[84.528,25,75,20,84],[84.543,25,70,20,82],[84.558,25,85,20,92],[84.573,24,60,18,78],[84.588,28,55,20,86],[84.603,25,68,20,84],[84.618,25,85,20,94],[84.633,24,75,20,86],[84.648,24,60,20,82],[84.663,22,55,19,72],[84.678,18,50,17,66],[84.693,20,55,18,76],[84.708,24,65,20,80],[84.723,24,72,21,84],[84.738,24,70,20,78],[84.753,27,65,23,72],[84.768,22,60,21,74],[84.783,25,55,20,76],[84.798,25,60,20,80],[84.813,25,62,20,84],[84.828,28,70,22,88],[84.843,30,68,24,90],[84.858,30,65,22,88],[84.873,26,70,20,88],[84.888,25,65,20,85],[84.903,25,62,20,84],[84.918,22,70,18,90],[84.933,25,70,19,90],[84.948,25,55,18,84],[84.963,28,60,20,78],[84.978,32,58,24,70],[84.993,35,60,25,68],[85.004,30,55,22,62],[85.103,25,70,21,88],[85.118,28,65,22,88],[85.133,28,60,22,85],[85.148,28,62,22,74],[85.163,28,58,22,74],[85.178,27,60,21,82],[85.193,28,58,20,82]
];
const lowF = [[84.178,10,17],[84.186,9,17],[84.194,10,16],[84.236,12,20],[84.243,11,18],[84.500,12,20],[84.550,14,20],[84.570,12,18],[84.748,10,20],[84.752,12,18],[84.960,14,22],[84.970,14,20],[85.005,15,25],[85.125,9,17],[85.135,8,14]];
const streakF = [[84.016,14,40],[84.028,18,30],[84.036,60,98],[84.048,28,75],[84.060,13,30],[84.075,45,90],[84.092,45,95],[84.105,14,24],[84.118,60,99],[84.134,16,24],[84.147,60,99],[84.160,60,99],[84.172,14,24],[84.205,13,25],[84.222,55,99],[84.238,12,24],[84.248,55,95],[84.252,12,22],[84.268,13,22],[84.284,55,99],[84.300,15,25],[84.325,11,24],[84.340,55,99],[84.368,55,99],[84.385,18,26],[84.402,55,99],[84.418,18,26],[84.440,55,99],[84.465,60,99],[84.490,60,99],[84.505,14,26],[84.520,60,99],[84.530,13,24],[84.545,14,26],[84.560,12,24],[84.575,55,99],[84.590,12,25],[84.600,14,24],[84.620,60,99],[84.640,60,99],[84.650,14,26],[84.668,60,99],[84.700,14,24],[84.715,60,99],[84.745,60,99],[84.762,14,24],[84.775,13,30],[84.790,11,30],[84.806,60,99],[84.820,15,26],[84.850,60,99],[84.870,13,25],[84.885,60,99],[84.900,14,24],[84.920,60,99],[84.940,13,25],[84.955,14,25],[84.965,60,99],[84.985,60,85],[85.006,15,35],[85.108,14,28],[85.122,60,99],[85.140,60,99],[85.150,10,22],[85.165,60,99],[85.182,60,99],[85.198,15,28]];
const grayF = [
[84.012,11,12,14,16],[84.040,12,13,18],[84.025,80,90,98],[84.060,75,88],[84.127,4.4,7,7.8],[84.110,13,14,16],[84.135,13,15],[84.150,13,15],[84.179,5,5.9,7,8,9],[84.197,4.2,4.6,5,5.6,6.2,6.8,7.5,8],[84.235,11,12,14],[84.240,11,12],[84.300,10,11,12,14],[84.325,10,11,12,13],[84.500,5.6,6.2,7,8,9,10],[84.575,8,8.5,11],[84.680,11.5],[84.748,4.3,4.6,5,5.4,6,6.6,7.2,8,8.8],[84.756,4.4,5,5.5,6,6.6,7],[84.790,8.5,9,10],[84.916,4.2,5.8,6.2,7,8,9,10],[84.930,4.8,5.2,6,7,8,9,10],[85.125,6.5,7,8.5,11],[85.137,7,8],[85.147,4],[85.180,4.9,6.8,8.5,12],[84.350,96,99],[84.450,95,99],[84.620,96,99],[84.820,97,99],[84.890,94,99],[85.120,96,99]
];

// map grid: the sheets below are digitised on a grid of x 795..2553, y 162..1977
const sheetA = [1860, 1020];
const sheetB = [786, 150];
const sheetC = [1680, 150];
const coastB = [
[9,12,470,12,460,40,440,60,415,80,395,70,400,100,420,125,445,130,455,145,430,140,410,135,350,150,310,150,272,150,285,175,320,185,340,200,365,215,375,250,395,325,385,340,355,345,335,320,320,295,275,285,240,240,215,230,205,205,180,165,185,100,215,95,195,115,160,120,175,190,205,240,195,265,165,265,140,240,115,250,150,265,185,275,215,250,235,245,265,270,300,310,325,360,350,375,320,365,295,340,265,330,235,350,270,350,290,370,300,395,275,400,235,425,210,420,180,395,165,378,190,405,220,430,260,420,295,430,305,460,295,490,270,505,248,500,265,525,300,530,320,545,320,620,320,660,300,700,320,730,345,760,330,785,300,780,290,800,285,840,240,855,210,830,180,790,150,750,130,725,145,780,165,810,150,835,105,830,145,845,115,910,111,930,118,969,160,982,136,1014,93,1034,26,1086,81,1105,69,1138,87,1177,160,1203,167,1281,173,1320,160,1385,209,1450,179,1509,148,1561,185,1535,228,1580,283,1619,350,1665,405,1736,442,1827,9,1827],
[480,140,520,125,560,130,585,160,580,210,550,240,582,240,585,310,575,360,545,410,530,450,515,460,505,440,515,400,545,340,548,240,530,180,500,150],
[380,350,392,332,403,350,390,360],[415,735,440,715,470,715,485,720,510,725,525,750,500,765,480,745,465,760,430,755],[375,735,400,750,430,775,400,790,380,785],
[490,20,515,20,505,50,490,40],[560,25,585,22,590,35,570,40],
[650,592,681,553,717,513,711,578,681,602],[730,513,779,513,754,533],
[681,1827,730,1788,791,1762,864,1788,913,1814,950,1827],[436,1658,473,1645,491,1678,448,1678],
[228,1138,265,1112,301,1151,301,1268,277,1216,240,1164],[185,1190,209,1177,197,1223]
];
const coastC = [
[705,368,740,378,790,385,830,410,868,440,875,440,875,790,860,790,835,795,820,820,790,830,830,835,832,855,790,852,760,855,720,875,670,900,640,915,620,940,610,965,620,1000,590,1020,575,1035,565,1025,560,990,545,985,540,1020,520,1040,498,1030,480,975,445,965,430,955,380,930,345,915,365,885,345,870,350,850,335,825,310,835,280,810,250,790,240,760,255,720,300,740,280,700,265,690,325,672,275,680,250,665,245,635,290,625,335,620,345,610,390,590,420,575,430,540,465,510,470,555,480,520,495,490,520,465,550,470,555,450,590,460,600,495,640,520,600,475,635,430,645,410,690,375,700,395,685,440,695,470,720,440,755,470,720,420],
[765,100,810,90,870,100,870,275,850,270,845,240,860,215,830,215,810,190,760,180,750,155,770,145,762,120],
[45,375,60,355,75,365,80,390,95,405,125,335,148,380,130,395,150,410,160,440,150,485,110,480,85,480,85,495,55,495,15,470,40,440,75,450,70,415,45,385],
[-30,15,180,15,150,35,130,30,100,50,90,50,70,35,60,65,45,60,40,45,25,40,10,55,-10,35]
];
const coastA = [
[130,70,165,60,195,95,240,135,265,165,300,190,330,215,355,240,385,240,395,265,375,295,360,340,330,350,300,315,325,295,310,255,270,250,240,255,205,255,165,250,130,240,125,200,115,150,120,95],
[135,265,195,265,250,260,275,300,265,330,225,325,205,330,170,315,145,290],
[410,290,440,275,465,295,455,335,430,375,400,410,370,395,340,385,325,375,370,370,395,335],
[290,335,312,335,310,345,292,345],[215,360,255,355,250,380,225,378],[262,375,280,360,270,385],
[155,390,215,380,240,395,225,420,190,410],[285,395,320,380,328,400,300,412],[195,450,225,460,205,462],
[495,345,510,290,555,270,560,295,600,260,640,240,685,185,690,185,690,470,655,440,615,470,590,475,570,470,585,410,545,400,515,375],
[470,365,495,400,540,445,570,470,530,470,490,440,465,400],
[405,450,440,420,470,470,480,510,455,490,420,480],
[370,490,410,495,470,555,470,585,410,585,375,550],
[340,425,375,425,385,440,360,455,340,450],
[270,440,300,425,340,480,320,490,280,480,245,475],
[125,465,150,445,170,480,160,505,125,495],
[100,600,110,550,130,520,150,560,190,545,240,570,205,510,250,505,280,540,240,610,215,620,180,610,150,615,130,600,100,615],
[115,695,150,670,225,655,240,670,220,720,225,790,200,815,150,795,145,730],
[320,605,345,575,355,600,375,640,450,660,495,650,520,700,490,730,460,740,450,790,410,835,360,830,305,820,365,755,310,775,280,790,285,745,255,770,225,720,240,670,270,690,310,640,370,670],
[690,520,640,510,665,550,620,530,580,525,530,515,490,520,495,560,540,595,590,575,620,590,635,640,680,680,640,665,600,680,560,720,520,750,470,760,470,810,545,845,480,810,430,830,390,880,360,845,290,835,215,870,205,900,170,880,140,870,100,915,70,950,60,957,690,957],
[535,615,590,605,605,640,560,655]
];
const isletsB = [[347,400],[312,490],[365,513],[388,628],[543,600],[572,655],[352,685],[537,727],[365,800],[325,797],[224,1487]];
const isletsC = [[125,230],[525,246],[535,246]];
const isletsA = [[480,625],[530,700],[365,170],[320,550],[380,460]];

// graticule
const poleU = 1668, poleV = 1075;
const ringRadii = [226, 452, 677, 903];
const meridians = [[[795,1075],[2553,1075]], [[1141,165],[2190,1977]], [[2195,165],[1146,1977]]];

// satellite tracks on the same grid
const trackA = [[[1533,709],[1558,911]], [[1572,1008],[1582,1073]], [[1598,1210],[1604,1239]], [[1628,1408],[1647,1529]], [[1662,1620],[1663,1629]], [[1668,1655],[1689,1756]], [[1702,1841],[1703,1860]]];
const trackB = [[[1541,833],[1557,898]], [[1576,1075],[1586,1110]], [[1612,1311],[1617,1337]], [[1642,1494],[1652,1539]], [[1667,1665],[1672,1685]], [[1692,1765],[1728,1977]]];

const FONT = 'DejaVu Sans';
Chart.defaults.font.family = FONT;

function addCanvas(left, top, w, h) {
    var c = document.createElement('canvas');
    c.width = w; c.height = h;
    c.style.left = left + 'px'; c.style.top = top + 'px';
    c.style.width = w + 'px'; c.style.height = h + 'px';
    document.body.appendChild(c);
    return c;
}

// black box round the axes
var framePlugin = {
    id: 'frame',
    afterDraw: function (chart) {
        var a = chart.chartArea, ctx = chart.ctx;
        ctx.save();
        ctx.strokeStyle = '#000';
        ctx.lineWidth = 2.5;
        ctx.strokeRect(a.left, a.top, a.right - a.left, a.bottom - a.top);
        ctx.restore();
    }
};

var minorPlugin = {
    id: 'minorTicks',
    afterDraw: function (chart) {
        var a = chart.chartArea, ctx = chart.ctx, s = chart.scales.y;
        ctx.save();
        ctx.strokeStyle = '#000';
        ctx.lineWidth = 2;
        fbMinor.forEach(function (v) {
            var y = s.getPixelForValue(v);
            ctx.beginPath(); ctx.moveTo(a.left - 7, y); ctx.lineTo(a.left, y); ctx.stroke();
        });
        ctx.restore();
    }
};

var ringPlugin = {
    id: 'rings',
    afterDatasetsDraw: function (chart) {
        var a = chart.chartArea, ctx = chart.ctx, sx = chart.scales.x, sy = chart.scales.y;
        var cx = sx.getPixelForValue(poleU), cy = sy.getPixelForValue(poleV);
        ctx.save();
        ctx.beginPath(); ctx.rect(a.left, a.top, a.right - a.left, a.bottom - a.top); ctx.clip();
        ctx.strokeStyle = '#aaaaaa';
        ctx.lineWidth = 2.4;
        ctx.setLineDash([11, 5]);
        ringRadii.forEach(function (r) {
            ctx.beginPath();
            ctx.arc(cx, cy, sx.getPixelForValue(poleU + r) - cx, 0, Math.PI * 2);
            ctx.stroke();
        });
        ctx.restore();
    }
};

// legend box, pos is relative to the axes corner
function legendPlugin(box, items) {
    return {
        id: 'boxLegend',
        afterDraw: function (chart) {
            var a = chart.chartArea, ctx = chart.ctx;
            ctx.save();
            ctx.fillStyle = 'rgba(255,255,255,0.8)';
            ctx.strokeStyle = '#cccccc';
            ctx.lineWidth = 2.5;
            ctx.beginPath();
            ctx.roundRect(a.left + box.x, a.top + box.y, box.w, box.h, 7);
            ctx.fill(); ctx.stroke();
            ctx.font = '32.5px "' + FONT + '"';
            ctx.textBaseline = 'middle';
            items.forEach(function (it) {
                ctx.fillStyle = it.color;
                if (it.patch) {
                    ctx.fillRect(a.left + it.x, a.top + it.y - 12, 66, 24);
                } else {
                    ctx.beginPath();
                    ctx.arc(a.left + it.x, a.top + it.y, 6, 0, Math.PI * 2);
                    ctx.fill();
                }
                ctx.fillStyle = '#000';
                ctx.fillText(it.label, a.left + it.tx, a.top + it.y);
            });
            ctx.restore();
        }
    };
}

function pairs(list) {
    return list.map(function (p) { return { x: p[0], y: p[1] }; });
}
function columns(list) {
    var out = [];
    list.forEach(function (row) {
        row.slice(1).forEach(function (v) { out.push({ x: row[0], y: v }); });
    });
    return out;
}
function leadSet(points, color) {
    return { data: pairs(points), pointRadius: 2.5, pointBorderWidth: 0, backgroundColor: color };
}
function rangeSet(list, lo, hi, width, color) {
    return { type: 'bar', grouped: false, barThickness: width, backgroundColor: color,
        data: list.map(function (r) { return { x: r[0], y: [r[lo], r[hi]] }; }) };
}

// one freeboard panel
function fbPanel(p) {
    var xH = p.xTitle ? 110 : 60;
    var cw = p.cw;
    var ch = p.bottom + xH - p.ctop;
    var canvas = addCanvas(p.cleft, p.ctop, cw, ch);
    var sets = [
        leadSet(p.lead[0], '#800080'),
        leadSet(p.lead[1], '#1010e0'),
        leadSet(p.lead[2], '#0b6632'),
        leadSet(p.lead[3], '#c80a14')
    ];
    sets.push({ data: columns(p.gray), pointRadius: p.grayRadius, pointBorderWidth: 1.1, borderColor: '#777777', backgroundColor: 'rgba(128,128,128,0.15)' });
    if (p.core) sets.push(rangeSet(p.core, 1, 2, p.coreWidth, 'rgba(128,128,128,0.2)'));
    if (p.streak) sets.push(rangeSet(p.streak, 1, 2, 3, '#8a8a8a'));
    if (p.low) sets.push(rangeSet(p.low, 1, 2, 7, '#808080'));
    if (p.band) {
        sets.push(rangeSet(p.band, 1, 2, 10, '#808080'));
        sets.push(rangeSet(p.band, 3, 4, 10, 'rgba(128,128,128,0.62)'));
    }
    new Chart(canvas, {
        type: 'scatter',
        data: { datasets: sets },
        options: {
            responsive: false, animation: false, devicePixelRatio: 1, events: [],
            layout: { padding: { right: p.cleft + cw - p.right, left: 0, top: 0, bottom: 0 } },
            plugins: {
                legend: { display: false }, tooltip: { enabled: false },
                title: { display: true, text: p.title, fullSize: false, color: '#000',
                    font: { size: 38, weight: 'normal', lineHeight: 1 },
                    padding: { top: 0, bottom: p.top - p.ctop - 38 } }
            },
            scales: {
                x: {
                    type: 'linear', min: p.xMin, max: p.xMax, offset: false,
                    afterBuildTicks: function (s) { s.ticks = p.xTicks.map(function (v) { return { value: v }; }); },
                    afterFit: function (s) { s.height = xH; s.paddingLeft = 0; s.paddingRight = 0; },
                    grid: { offset: false, drawOnChartArea: false, tickLength: 12, tickWidth: 2.5, tickColor: '#000' },
                    border: { display: false },
                    ticks: { autoSkip: false, maxRotation: 0, padding: 15, color: '#000',
                        font: { size: 32.5, lineHeight: 1 },
                        callback: function (v) { return v.toFixed(p.digits); } },
                    title: { display: !!p.xTitle, text: p.xTitle, color: '#000', font: { size: 33, lineHeight: 1 }, padding: { top: 0, bottom: 6 } }
                },
                y: {
                    type: 'logarithmic', min: 0.1, max: 100,
                    afterBuildTicks: function (s) { s.ticks = fbTicks.map(function (v) { return { value: v }; }); },
                    afterFit: function (s) { s.width = p.left - p.cleft; s.paddingTop = 0; s.paddingBottom = 0; },
                    grid: { drawOnChartArea: false, tickLength: 12, tickWidth: 2.5, tickColor: '#000' },
                    border: { display: false },
                    ticks: { autoSkip: false, padding: 8, color: '#000', font: { size: 32.5, lineHeight: 1 },
                        callback: function (v) { return fbTickLabels[fbTicks.indexOf(v)]; } },
                    title: { display: true, text: 'fb (cm)', color: '#000', font: { size: 32.5, lineHeight: 1 }, padding: { top: 4, bottom: 0 } }
                }
            }
        },
        plugins: p.legend ? [framePlugin, minorPlugin, p.legend] : [framePlugin, minorPlugin]
    });
}

// one bar panel
function barPanel(p) {
    var xH = 110;
    var ch = p.bottom + xH - p.ctop;
    var canvas = addCanvas(p.cleft, p.ctop, p.cw, ch);
    new Chart(canvas, {
        type: 'bar',
        data: {
            datasets: [
                { label: '<80N', data: thresholds.map(function (t, i) { return { x: t, y: p.low[i] }; }), backgroundColor: 'blueviolet', categoryPercentage: 0.6, barPercentage: 1 },
                { label: '>80N', data: thresholds.map(function (t, i) { return { x: t, y: p.high[i] }; }), backgroundColor: 'gold', categoryPercentage: 0.6, barPercentage: 1 }
            ]
        },
        options: {
            responsive: false, animation: false, devicePixelRatio: 1, events: [],
            layout: { padding: { right: p.cleft + p.cw - p.right, left: 0, top: 0, bottom: 0 } },
            plugins: {
                legend: { display: false }, tooltip: { enabled: false },
                title: { display: true, text: p.title, fullSize: false, color: '#000',
                    font: { size: 38, weight: 'normal', lineHeight: 1 },
                    padding: { top: 0, bottom: p.top - p.ctop - 38 } }
            },
            scales: {
                x: {
                    type: 'linear', min: 0.52, max: 4.48, offset: false,
                    afterBuildTicks: function (s) { s.ticks = thresholds.map(function (v) { return { value: v }; }); },
                    afterFit: function (s) { s.height = xH; s.paddingLeft = 0; s.paddingRight = 0; },
                    grid: { offset: false, z: 1, color: '#b0b0b0', lineWidth: 2, tickLength: 12, tickWidth: 2.5, tickColor: '#000' },
                    border: { display: false, dash: [2, 4] },
                    ticks: { autoSkip: false, maxRotation: 0, padding: 15, color: '#000', font: { size: 32.5, lineHeight: 1 } },
                    title: { display: true, text: 'fb threshold (cm)', color: '#000', font: { size: 33, lineHeight: 1 }, padding: { top: 0, bottom: 5 } }
                },
                y: {
                    type: 'linear', min: 0, max: p.yMax,
                    afterBuildTicks: function (s) { s.ticks = leadTicks.map(function (v) { return { value: v }; }); },
                    afterFit: function (s) { s.width = p.left - p.cleft; s.paddingTop = 0; s.paddingBottom = 0; },
                    grid: { z: 1, color: '#b0b0b0', lineWidth: 2, tickLength: 12, tickWidth: 2.5, tickColor: '#000' },
                    border: { display: false, dash: [2, 4] },
                    ticks: { autoSkip: false, padding: 8, color: '#000', font: { size: 32.5, lineHeight: 1 } },
                    title: { display: true, text: 'lead fraction (%)', color: '#000', font: { size: 32.5, lineHeight: 1 }, padding: { top: 57, bottom: 0 } }
                }
            }
        },
        plugins: p.legend ? [framePlugin, p.legend] : [framePlugin]
    });
}

function sheetPolys(polys, origin) {
    return polys.map(function (poly) {
        var pts = [];
        for (var i = 0; i < poly.length; i += 2) pts.push({ x: origin[0] + poly[i], y: origin[1] + poly[i + 1] });
        pts.push(pts[0]);
        return pts;
    });
}
function sheetDots(list, origin) {
    return list.map(function (d) { return { x: origin[0] + d[0], y: origin[1] + d[1] }; });
}

// one map panel
function mapPanel(p) {
    var canvas = addCanvas(p.left - 10, p.ctop, p.right - p.left + 20, p.bottom + 10 - p.ctop);
    var sets = [];
    p.track.forEach(function (seg) {
        sets.push({ data: pairs(seg), showLine: true, pointRadius: 0, borderColor: '#1f77b4', borderWidth: 6, borderCapStyle: 'round' });
    });
    meridians.forEach(function (m) {
        sets.push({ data: pairs(m), showLine: true, pointRadius: 0, borderColor: '#aaaaaa', borderWidth: 2.4, borderDash: [11, 5] });
    });
    sets.push({ data: sheetDots(isletsB, sheetB).concat(sheetDots(isletsC, sheetC), sheetDots(isletsA, sheetA)), pointRadius: 2.2, pointBorderWidth: 0, backgroundColor: '#000' });
    sheetPolys(coastB, sheetB).concat(sheetPolys(coastC, sheetC), sheetPolys(coastA, sheetA)).forEach(function (pts) {
        sets.push({ data: pts, showLine: true, pointRadius: 0, borderColor: '#000', borderWidth: 1.8, backgroundColor: '#efefdb', fill: 'shape' });
    });
    new Chart(canvas, {
        type: 'scatter',
        data: { datasets: sets },
        options: {
            responsive: false, animation: false, devicePixelRatio: 1, events: [],
            layout: { padding: { left: 10, right: 10, top: 0, bottom: 10 } },
            plugins: {
                legend: { display: false }, tooltip: { enabled: false },
                title: { display: true, text: p.title, fullSize: false, color: '#000',
                    font: { size: 39, weight: 'normal', lineHeight: 1 },
                    padding: { top: 0, bottom: p.top - p.ctop - 39 } }
            },
            scales: {
                x: { type: 'linear', display: false, min: 795, max: 2553 },
                y: { type: 'linear', display: false, min: 162, max: 1977, reverse: true }
            }
        },
        plugins: [framePlugin, ringPlugin]
    });
}

mapPanel({ title: '(a) 30 Nov 2018', left: 265, right: 851, top: 54, bottom: 659, ctop: 3, track: trackA });
mapPanel({ title: '(b) 01 Mar 2019', left: 1319, right: 1906, top: 54, bottom: 659, ctop: 3, track: trackB });

fbPanel({ title: '(c)', cleft: 0, cw: 1040, left: 153, right: 964, top: 739.5, bottom: 1243, ctop: 691,
    xMin: 72.73, xMax: 72.95, xTicks: latTicksC, digits: 2, lead: [c4cm, c3cm, c2cm, c1cm], gray: grayC.concat(grayC2), grayRadius: 1.7, core: bandC, coreWidth: 15 });
fbPanel({ title: '(d)', cleft: 1053, cw: 1014, left: 1208, right: 2017, top: 739.5, bottom: 1243, ctop: 691,
    xMin: 72.85, xMax: 73.00, xTicks: latTicksD, digits: 2, lead: [d4cm, d3cm, d2cm, d1cm], gray: grayD, grayRadius: 1.5, core: bandD, coreWidth: 21,
    legend: legendPlugin({ x: 16, y: 376, w: 446, h: 111 }, [
        { label: '4 cm', color: '#a8189a', x: 60, y: 407, tx: 123 },
        { label: '3 cm', color: '#0000ff', x: 60, y: 457, tx: 123 },
        { label: '2 cm', color: '#006400', x: 305, y: 407, tx: 366 },
        { label: '1 cm', color: '#b80000', x: 305, y: 457, tx: 366 }
    ]) });
fbPanel({ title: '(e)', cleft: 0, cw: 1040, left: 152, right: 962, top: 1363.5, bottom: 1866.5, ctop: 1312, xTitle: 'latitude',
    xMin: 84, xMax: 85.2, xTicks: latTicksE, digits: 1, lead: [e4cm, e3cm, e2cm, e1cm], gray: grayE, grayRadius: 1.7, low: lowE, band: bandE, streak: streakE });
fbPanel({ title: '(f)', cleft: 1053, cw: 1014, left: 1206, right: 2016, top: 1363.5, bottom: 1866.5, ctop: 1312, xTitle: 'latitude',
    xMin: 84, xMax: 85.2, xTicks: latTicksE, digits: 1, lead: [f4cm, f3cm, f2cm, f1cm], gray: grayF, grayRadius: 1.7, low: lowF, band: bandF, streak: streakF });

barPanel({ title: '(g)', cleft: 0, cw: 1040, left: 152, right: 963, top: 2029.6, bottom: 2533, ctop: 1979, yMax: 3.548, low: leadLowG, high: leadHighG,
    legend: legendPlugin({ x: 17, y: 16, w: 215, h: 110 }, [
        { label: '<80N', color: 'blueviolet', patch: true, x: 30, y: 44, tx: 125 },
        { label: '>80N', color: 'gold', patch: true, x: 30, y: 95, tx: 125 }
    ]) });
barPanel({ title: '(h)', cleft: 1053, cw: 1014, left: 1206, right: 2017, top: 2029.6, bottom: 2533, ctop: 1979, yMax: 3.548, low: leadLowH, high: leadHighH });
</script>
</body>
</html>
